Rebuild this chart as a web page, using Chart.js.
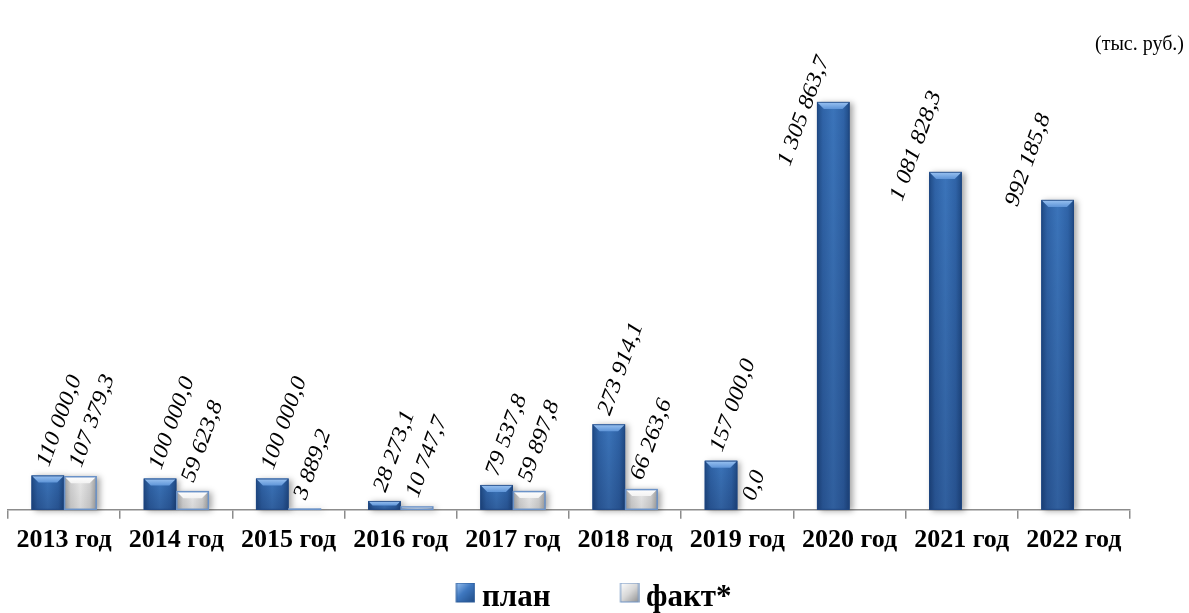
<!DOCTYPE html>
<html>
<head>
<meta charset="utf-8">
<script src="https://cdn.jsdelivr.net/npm/chart.js@4"></script>
<style>
  html, body { margin: 0; padding: 0; background: #fff; }
  #wrap { width: 1189px; height: 613px; position: relative; }
</style>
</head>
<body>
<div id="wrap"><canvas id="chart"></canvas></div>
<script>
const years = ["2013 год", "2014 год", "2015 год", "2016 год", "2017 год",
               "2018 год", "2019 год", "2020 год", "2021 год", "2022 год"];
const plan = [110000.0, 100000.0, 100000.0, 28273.1, 79537.8,
              273914.1, 157000.0, 1305863.7, 1081828.3, 992185.8];
const fact = [107379.3, 59623.8, 3889.2, 10747.7, 59897.8,
              66263.6, 0.0, null, null, null];
const seriesNames = ["план", "факт*"];
const unitText = "(тыс. руб.)";

function fmt(v) {
    const parts = v.toFixed(1).split(".");
    return parts[0].replace(/\B(?=(\d{3})+(?!\d))/g, " ") + "," + parts[1];
}

// legend marker: a bevelled square sitting at the right end of a wider transparent canvas,
// so it ends up close to its text
const markerBox = 60;
function swatch(kind) {
    const cv = document.createElement("canvas");
    cv.width = markerBox + 18;
    cv.height = 30;
    const g = cv.getContext("2d");
    const x0 = markerBox - 1.5, w = 19, h = 20, y0 = 0;
    const lg = g.createLinearGradient(x0, y0, x0 + w, y0 + h);
    if (kind === "plan") {
        lg.addColorStop(0, "#9cc4f2");
        lg.addColorStop(0.45, "#3f78c0");
        lg.addColorStop(1, "#1f4b85");
    } else {
        lg.addColorStop(0, "#ffffff");
        lg.addColorStop(0.5, "#d8d8d8");
        lg.addColorStop(1, "#8e8e8e");
    }
    g.fillStyle = lg;
    g.fillRect(x0, y0, w, h);
    g.strokeStyle = kind === "plan" ? "#2a5a98" : "#6f93c4";
    g.lineWidth = 1;
    g.strokeRect(x0 + 0.5, y0 + 0.5, w - 1, h - 1);
    return cv;
}

const barLook = {
    id: "barLook",
    afterDatasetsDraw(chart) {
        const ctx = chart.ctx;
        chart.data.datasets.forEach((ds, di) => {
            const meta = chart.getDatasetMeta(di);
            meta.data.forEach((bar, i) => {
                if (ds.data[i] == null) return;
                const p = bar.getProps(["x", "y", "base", "width"], true);
                const l = p.x - p.width / 2, r = p.x + p.width / 2;
                const h = p.base - p.y;
                if (h <= 0) return;
                const isPlan = di === 0;
                ctx.save();
                const hg = ctx.createLinearGradient(l, 0, r, 0);
                if (isPlan) {
                    hg.addColorStop(0, "#1f4a84");
                    hg.addColorStop(0.18, "#2f63a7");
                    hg.addColorStop(0.5, "#3b74ba");
                    hg.addColorStop(0.82, "#2f63a7");
                    hg.addColorStop(1, "#1f4a84");
                } else {
                    hg.addColorStop(0, "#9c9c9c");
                    hg.addColorStop(0.2, "#d0d0d0");
                    hg.addColorStop(0.5, "#e8e8e8");
                    hg.addColorStop(0.8, "#d0d0d0");
                    hg.addColorStop(1, "#9c9c9c");
                }
                ctx.shadowColor = "rgba(0,0,0,0.35)";
                ctx.shadowBlur = 6;
                ctx.shadowOffsetX = 3;
                ctx.shadowOffsetY = 1;
                ctx.fillStyle = hg;
                ctx.fillRect(l, p.y, p.width, h);
                ctx.shadowColor = "transparent";
                const vg = ctx.createLinearGradient(0, p.y, 0, p.base);
                vg.addColorStop(0, "rgba(0,0,20,0)");
                vg.addColorStop(1, isPlan ? "rgba(0,0,30,0.18)" : "rgba(0,0,0,0.08)");
                ctx.fillStyle = vg;
                ctx.fillRect(l, p.y, p.width, h);
                const bev = Math.min(7, h / 2);
                const tg = ctx.createLinearGradient(0, p.y, 0, p.y + bev);
                if (isPlan) {
                    tg.addColorStop(0, "#9cc4f2");
                    tg.addColorStop(1, "#5f95d8");
                } else {
                    tg.addColorStop(0, "#ffffff");
                    tg.addColorStop(1, "#f2f2f2");
                }
                ctx.fillStyle = tg;
                ctx.beginPath();
                ctx.moveTo(l, p.y);
                ctx.lineTo(r, p.y);
                ctx.lineTo(r - bev, p.y + bev);
                ctx.lineTo(l + bev, p.y + bev);
                ctx.closePath();
                ctx.fill();
                ctx.strokeStyle = isPlan ? "rgba(30,70,130,0.8)" : "#6a92c8";
                ctx.lineWidth = isPlan ? 1 : 1.5;
                ctx.strokeRect(l + 0.5, p.y + 0.5, p.width - 1, h - 1);
                ctx.restore();
            });
        });
    }
};

const valueLabels = {
    id: "valueLabels",
    afterDatasetsDraw(chart) {
        const ctx = chart.ctx;
        const ang = -70 * Math.PI / 180;
        const stretch = 1.1;
        const top = chart.chartArea.top;
        ctx.save();
        ctx.font = "italic 22px 'Liberation Serif'";
        ctx.fillStyle = "#000";
        chart.data.datasets.forEach((ds, di) => {
            const meta = chart.getDatasetMeta(di);
            meta.data.forEach((bar, i) => {
                const v = ds.data[i];
                if (v == null) return;
                const text = fmt(v);
                const w = ctx.measureText(text).width * stretch;
                const sx = bar.x + 1, sy = bar.y - 8;
                const endY = sy + Math.sin(ang) * w;
                ctx.save();
                if (endY < top + 80) {
                    // no room above: put the label beside the bar
                    ctx.translate(bar.x - bar.width / 2 - 13, (bar.y + top) / 2 + 30);
                    ctx.rotate(ang);
                    ctx.scale(stretch, 1);
                    ctx.textAlign = "center";
                    ctx.textBaseline = "middle";
                } else {
                    ctx.translate(sx, sy);
                    ctx.rotate(ang);
                    ctx.scale(stretch, 1);
                    ctx.textAlign = "left";
                    ctx.textBaseline = "alphabetic";
                }
                ctx.fillText(text, 0, 0);
                ctx.restore();
            });
        });
        ctx.restore();
    }
};

const unitLabel = {
    id: "unitLabel",
    afterDraw(chart) {
        const ctx = chart.ctx;
        ctx.save();
        ctx.font = "20px 'Liberation Serif'";
        ctx.fillStyle = "#000";
        ctx.textAlign = "right";
        ctx.textBaseline = "alphabetic";
        ctx.fillText(unitText, chart.width - 5, 50);
        ctx.restore();
    }
};

const chartobj = new Chart(document.getElementById("chart"), {
    type: "bar",
    data: {
        labels: years,
        datasets: [{
            label: seriesNames[0],
            data: plan,
            backgroundColor: "#3467aa",
            pointStyle: swatch("plan")
        }, {
            label: seriesNames[1],
            data: fact,
            backgroundColor: "#d9d9d9",
            pointStyle: swatch("fact")
        }]
    },
    options: {
        responsive: true,
        maintainAspectRatio: false,
        animation: false,
        layout: {padding: {left: 8, right: 59, top: 60, bottom: -10}},
        datasets: {bar: {categoryPercentage: 0.58, barPercentage: 1.0}},
        plugins: {
            legend: {
                position: "bottom",
                labels: {
                    usePointStyle: true,
                    pointStyleWidth: markerBox,
                    color: "#000",
                    padding: 20,
                    font: {family: "'Liberation Serif'", size: 31, weight: "bold"}
                }
            },
            tooltip: {enabled: false}
        },
        scales: {
            x: {
                grid: {display: true, drawOnChartArea: false, drawTicks: true,
                       tickLength: 9, color: "#8c8c8c", lineWidth: 1.5, offset: true},
                border: {display: true, color: "#8c8c8c", width: 1.5},
                ticks: {
                    color: "#000",
                    padding: 6,
                    maxRotation: 0,
                    autoSkip: false,
                    font: {family: "'Liberation Serif'", size: 26, weight: "bold"}
                }
            },
            y: {display: false, min: 0, max: 1440000}
        }
    },
    plugins: [barLook, valueLabels, unitLabel]
});
</script>
</body>
</html>
